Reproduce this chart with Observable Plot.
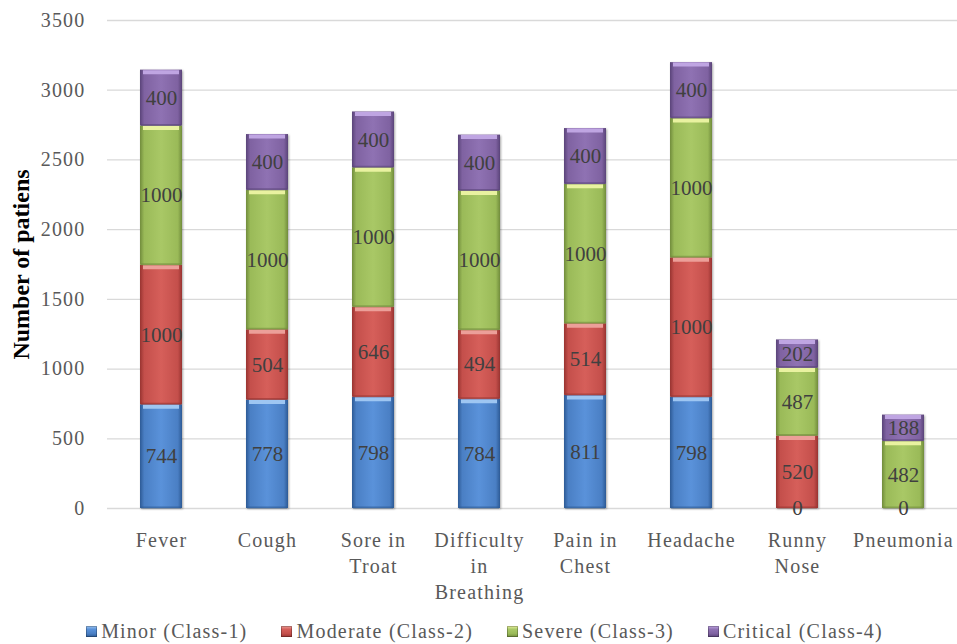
<!DOCTYPE html>
<html>
<head>
<meta charset="utf-8">
<script src="https://cdn.jsdelivr.net/npm/d3@7"></script>
<script src="https://cdn.jsdelivr.net/npm/@observablehq/plot@0.6"></script>
<style>
  html, body { margin: 0; padding: 0; background: #fff; overflow: hidden; }
  body { width: 957px; height: 644px; font-family: "Liberation Serif", "Times New Roman", serif; }
  #chart svg { display: block; }
  [aria-label$="tick label"] { letter-spacing: 1.2px; }
  .bars { filter: drop-shadow(1px 1px 1.2px rgba(0,0,0,0.35)); }
  #legend { display: flex; justify-content: center; align-items: center; gap: 34px;
    height: 25px; line-height: 25px; padding-left: 12px; font-size: 20px; letter-spacing: 1.2px; color: #595959;
    font-family: "Liberation Serif", "Times New Roman", serif; }
  #legend .item { display: flex; align-items: center; gap: 4px; white-space: nowrap; }
  #legend .sw { width: 11px; height: 11px; display: inline-block; box-shadow: inset 0 0 0 1px rgba(0,0,0,0.25); }
</style>
</head>
<body>
<div id="chart"></div>
<div id="legend"></div>
<script>
// ---- data ----
const categories = ["Fever", "Cough", "Sore in Troat", "Difficulty in Breathing", "Pain in Chest", "Headache", "Runny Nose", "Pneumonia"];
const categoryLabels = ["Fever", "Cough", "Sore in\nTroat", "Difficulty\nin\nBreathing", "Pain in\nChest", "Headache", "Runny\nNose", "Pneumonia"];
const series = ["Minor (Class-1)", "Moderate (Class-2)", "Severe (Class-3)", "Critical (Class-4)"];
const minor = [744, 778, 798, 784, 811, 798, 0, 0];
const moderate = [1000, 504, 646, 494, 514, 1000, 520, 0];
const severe = [1000, 1000, 1000, 1000, 1000, 1000, 487, 482];
const critical = [400, 400, 400, 400, 400, 400, 202, 188];
const yTicks = [0, 500, 1000, 1500, 2000, 2500, 3000, 3500];

// ---- styles ----
const baseColors = ["#4a7fc4", "#c44f4b", "#9aba58", "#7f62a1"];
const edgeColors = ["#2d5a95", "#983431", "#718c3c", "#5a4479"];
const lightColors = ["#5a92da", "#d65f5a", "#a9c866", "#8f72b3"];
const hiColors = ["#9ec6f2", "#ec9f99", "#e9f2a0", "#bfa5e2"];

const seriesValues = [minor, moderate, severe, critical];
const rows = [];
categories.forEach((c, i) => {
  series.forEach((s, j) => {
    rows.push({category: c, series: s, si: j, value: seriesValues[j][i]});
  });
});
const labelOf = new Map(categories.map((c, i) => [c, categoryLabels[i]]));

const defsMark = () => {
  const defs = d3.create("svg:defs");
  baseColors.forEach((b, j) => {
    const g = defs.append("linearGradient").attr("id", "g" + j).attr("x1", 0).attr("x2", 1).attr("y1", 0).attr("y2", 0);
    g.append("stop").attr("offset", "0%").attr("stop-color", edgeColors[j]);
    g.append("stop").attr("offset", "10%").attr("stop-color", b);
    g.append("stop").attr("offset", "50%").attr("stop-color", lightColors[j]);
    g.append("stop").attr("offset", "90%").attr("stop-color", b);
    g.append("stop").attr("offset", "100%").attr("stop-color", edgeColors[j]);
  });
  return defs.node();
};

const stackOpts = {x: "category", y: "value", z: "series"};

const chart = Plot.plot({
  width: 957,
  height: 619,
  marginTop: 20,
  marginBottom: 111,
  marginLeft: 107,
  marginRight: 0,
  style: {fontFamily: "'Liberation Serif', 'Times New Roman', serif", background: "#fff"},
  x: {domain: categories, paddingInner: 0.6, paddingOuter: 0.3},
  y: {domain: [0, 3500]},
  color: {type: "identity"},
  marks: [
    defsMark,
    Plot.gridY(yTicks, {stroke: "#d9d9d9", strokeOpacity: 1, strokeWidth: 1.3}),
    Plot.barY(rows, Plot.stackY({...stackOpts, fill: d => `url(#g${d.si})`, filter: d => d.value > 0, className: "bars"})),
    Plot.tickY(rows, Plot.stackY2({...stackOpts, stroke: d => hiColors[d.si], strokeWidth: 4, dy: 2, inset: 3, filter: d => d.value > 0})),
    Plot.tickY(rows, Plot.stackY1({...stackOpts, stroke: d => edgeColors[d.si], strokeWidth: 2, dy: -1, inset: 1, strokeOpacity: 0.6, filter: d => d.value > 0})),
    Plot.text(rows, Plot.stackY({...stackOpts, text: d => String(d.value), fontSize: 21, fill: "#404040",
      filter: d => d.value > 0 || d.si === 0})),
    Plot.axisY({ticks: yTicks, tickFormat: d3.format("d"), tickSize: 0, tickPadding: 22, fontSize: 20, color: "#595959", label: null}),
    Plot.axisX({tickSize: 0, tickPadding: 20, fontSize: 20, color: "#595959", lineHeight: 1.3,
      tickFormat: d => labelOf.get(d), label: null}),
    Plot.text(["Number of patiens"], {frameAnchor: "left", dx: -86, rotate: -90, textAnchor: "middle",
      lineAnchor: "middle", fontSize: 24, fontWeight: "bold", fill: "#000", style: "letter-spacing:1.2px"})
  ]
});
document.getElementById("chart").appendChild(chart);

// legend
const legend = d3.select("#legend");
series.forEach((s, j) => {
  const item = legend.append("div").attr("class", "item");
  item.append("span").attr("class", "sw")
    .style("background", `linear-gradient(to bottom, ${hiColors[j]} 0%, ${lightColors[j]} 30%, ${baseColors[j]} 70%, ${edgeColors[j]} 100%)`);
  item.append("span").text(s);
});
</script>
</body>
</html>
